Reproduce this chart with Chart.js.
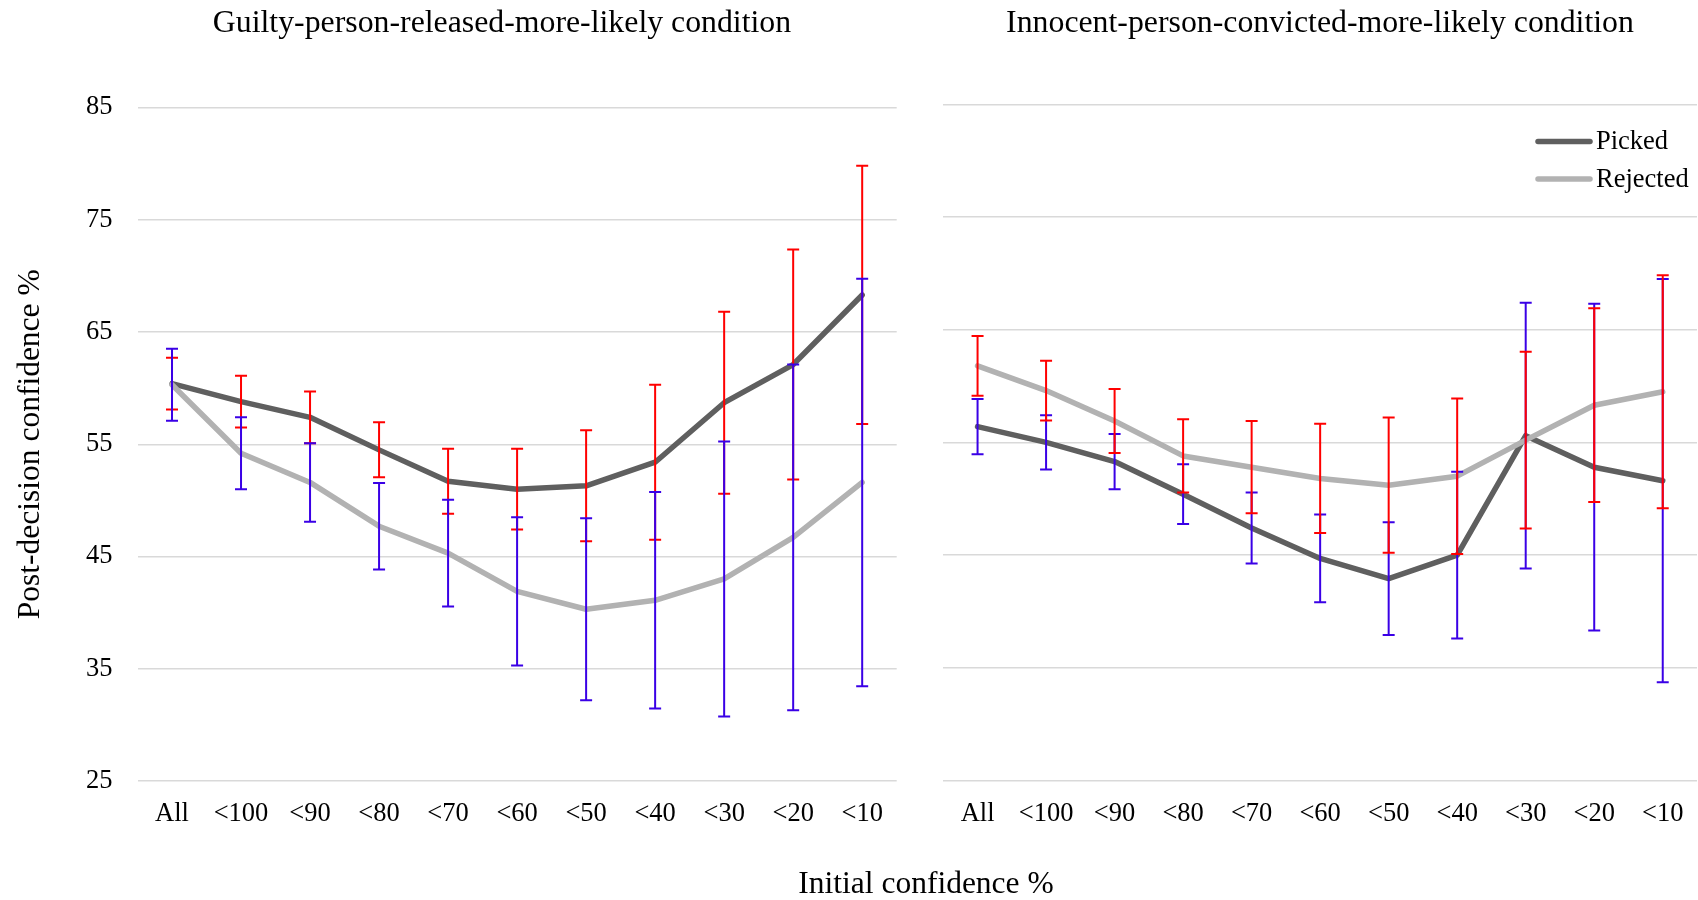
<!DOCTYPE html>
<html>
<head>
<meta charset="utf-8">
<script src="https://cdn.jsdelivr.net/npm/chart.js@4.4.1/dist/chart.umd.min.js"></script>
<style>
  html, body { margin: 0; padding: 0; background: #fff; }
  body { width: 1698px; height: 900px; position: relative; overflow: hidden; font-family: "Liberation Serif", "Times New Roman", serif; }
  .panel { position: absolute; top: 0; height: 900px; }
  .label { position: absolute; font-size: 31.5px; line-height: 36px; white-space: nowrap; transform: translateX(-50%); color: #000; }
  .label.head { font-size: 31.8px; }
</style>
</head>
<body>
<div class="panel" style="left:0;width:910px"><canvas id="guilty" width="910" height="900"></canvas></div>
<div class="panel" style="left:910px;width:788px"><canvas id="innocent" width="788" height="900"></canvas></div>
<div class="label head" style="left:502px;top:4px">Guilty-person-released-more-likely condition</div>
<div class="label head" style="left:1320px;top:4px">Innocent-person-convicted-more-likely condition</div>
<div class="label" style="left:926px;top:865px">Initial confidence %</div>
<script>
const categories = ["All", "<100", "<90", "<80", "<70", "<60", "<50", "<40", "<30", "<20", "<10"];
const yMin = 25, yMax = 85, yStep = 10;

// guilty-person-released-more-likely condition
const guiltyPicked      = [60.4, 58.8, 57.4, 54.5, 51.7, 51.0, 51.3, 53.4, 58.7, 62.1, 68.3];
const guiltyPickedErr   = [2.3, 2.3, 2.3, 2.45, 2.9, 3.6, 4.95, 6.9, 8.1, 10.25, 11.5];
const guiltyRejected    = [60.3, 54.2, 51.6, 47.7, 45.3, 41.9, 40.3, 41.1, 43.0, 46.7, 51.6];
const guiltyRejectedErr = [3.2, 3.2, 3.5, 3.85, 4.75, 6.6, 8.1, 9.65, 12.25, 15.4, 18.15];

// innocent-person-convicted-more-likely condition
const innocentPicked      = [56.4, 55.0, 53.3, 50.4, 47.4, 44.7, 42.9, 45.0, 55.6, 52.8, 51.6];
const innocentPickedErr   = [2.45, 2.4, 2.45, 2.65, 3.15, 3.9, 5.0, 7.4, 11.8, 14.5, 17.9];
const innocentRejected    = [61.8, 59.6, 56.9, 53.8, 52.8, 51.8, 51.2, 52.0, 55.2, 58.3, 59.5];
const innocentRejectedErr = [2.65, 2.65, 2.85, 3.25, 4.1, 4.85, 6.0, 6.9, 7.85, 8.6, 10.35];

const DARK = "#5f5f5f", LIGHT = "#b2b2b2", RED = "#ff0000", BLUE = "#3a00e6";
const FONT = "Liberation Serif";

// vertical error bars with caps, drawn from each dataset's errors
const errorBars = {
    id: "errorBars",
    afterDatasetsDraw(chart) {
        const ctx = chart.ctx, x = chart.scales.x, y = chart.scales.y;
        ctx.save();
        ctx.lineWidth = 2;
        chart.data.datasets.forEach(function (ds) {
            ctx.strokeStyle = ds.errorColor;
            ds.data.forEach(function (v, i) {
                const e = ds.errors[i];
                const px = x.getPixelForValue(i);
                const top = y.getPixelForValue(v + e), bot = y.getPixelForValue(v - e);
                ctx.beginPath();
                ctx.moveTo(px, top); ctx.lineTo(px, bot);
                ctx.moveTo(px - 6, top); ctx.lineTo(px + 6, top);
                ctx.moveTo(px - 6, bot); ctx.lineTo(px + 6, bot);
                ctx.stroke();
            });
        });
        ctx.restore();
    }
};

// legend drawn inside the plot, top right
const insideLegend = {
    id: "insideLegend",
    afterDraw(chart) {
        if (!chart.options.plugins.insideLegend.show) return;
        const ctx = chart.ctx, area = chart.chartArea;
        ctx.save();
        chart.data.datasets.forEach(function (ds, i) {
            const yy = area.top + 37 + i * 37.5;
            ctx.strokeStyle = ds.borderColor;
            ctx.lineWidth = 5.5;
            ctx.lineCap = "round";
            ctx.beginPath();
            ctx.moveTo(area.right - 159, yy);
            ctx.lineTo(area.right - 107, yy);
            ctx.stroke();
            ctx.fillStyle = "#000";
            ctx.font = "26.5px '" + FONT + "'";
            ctx.textBaseline = "middle";
            ctx.fillText(ds.label, area.right - 101, yy + 1);
        });
        ctx.restore();
    }
};

function makeDatasets(picked, pickedErr, pickedColor, rejected, rejectedErr, rejectedColor) {
    return [
        { label: "Picked", data: picked, errors: pickedErr, errorColor: pickedColor,
          borderColor: DARK, backgroundColor: DARK, borderWidth: 5.5, order: 1 },
        { label: "Rejected", data: rejected, errors: rejectedErr, errorColor: rejectedColor,
          borderColor: LIGHT, backgroundColor: LIGHT, borderWidth: 5.5, order: 0 }
    ];
}

function makeOptions(opts) {
    return {
        responsive: false,
        animation: false,
        devicePixelRatio: 1,
        layout: { padding: { top: opts.top, right: opts.right, left: 0, bottom: 0 } },
        elements: {
            point: { radius: 0, hoverRadius: 0 },
            line: { tension: 0, borderCapStyle: "round", borderJoinStyle: "round" }
        },
        scales: {
            x: {
                offset: true,
                grid: { display: false },
                border: { display: false },
                ticks: { color: "#000", font: { family: FONT, size: 26.5 }, padding: 9.5, maxRotation: 0, autoSkip: false },
                afterFit: function (s) { s.height = opts.xHeight; }
            },
            y: {
                min: yMin, max: yMax,
                grid: { color: "#d9d9d9", lineWidth: 1.5, drawTicks: false },
                border: { display: false },
                ticks: { display: opts.yLabels, stepSize: yStep, color: "#000", font: { family: FONT, size: 26.5 }, padding: 25 },
                title: {
                    display: opts.yLabels,
                    text: "Post-decision confidence %",
                    color: "#000",
                    font: { family: FONT, size: 31.5 },
                    padding: { top: 12, bottom: 0 }
                },
                afterFit: function (s) { s.width = opts.yWidth; }
            }
        },
        plugins: {
            legend: { display: false },
            tooltip: { enabled: false },
            insideLegend: { show: opts.legend }
        }
    };
}

new Chart(document.getElementById("guilty").getContext("2d"), {
    type: "line",
    data: {
        labels: categories,
        datasets: makeDatasets(guiltyPicked, guiltyPickedErr, RED, guiltyRejected, guiltyRejectedErr, BLUE)
    },
    options: makeOptions({ top: 107.5, right: 13.3, xHeight: 119, yWidth: 137.5, yLabels: true, legend: false }),
    plugins: [errorBars, insideLegend]
});

new Chart(document.getElementById("innocent").getContext("2d"), {
    type: "line",
    data: {
        labels: categories,
        datasets: makeDatasets(innocentPicked, innocentPickedErr, BLUE, innocentRejected, innocentRejectedErr, RED)
    },
    options: makeOptions({ top: 104.5, right: 1, xHeight: 119.7, yWidth: 33.3, yLabels: false, legend: true }),
    plugins: [errorBars, insideLegend]
});
</script>
</body>
</html>
